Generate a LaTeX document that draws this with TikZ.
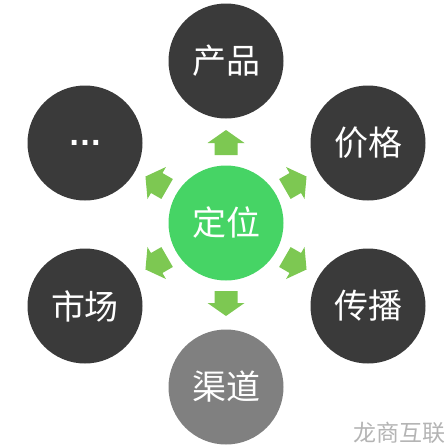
\documentclass[tikz,border=0pt]{standalone}
\usepackage{fontspec}
\setmainfont{Noto Sans CJK SC}
\newfontfamily\dotsfont{Liberation Sans}
\definecolor{ballgray}{HTML}{3A3A3A}
\definecolor{balllight}{HTML}{808080}
\definecolor{ballgreen}{HTML}{46D465}
\definecolor{arrowgreen}{HTML}{7DC852}
\definecolor{markgray}{HTML}{B4B4B4}

\begin{document}
\begin{tikzpicture}[x=1pt,y=-1pt,
  ball/.style={circle,fill=ballgray,minimum size=115pt,inner sep=0pt,text=white,font=\fontsize{34}{34}\selectfont},
  blockarrow/.style={fill=arrowgreen}]
\useasboundingbox (0,0) rectangle (448,445);
% centre and the six balls
\node[ball,fill=ballgreen] (center) at (226,223) {定位};
\node[ball] (product) at (226,61) {产品};
\node[ball] (price) at (368,143) {价格};
\node[ball] (promo) at (368,306) {传播};
\node[ball,fill=balllight] (channel) at (226,387) {渠道};
\node[ball] (market) at (85,306) {市场};
\node[ball,font=\dotsfont\fontsize{34}{34}\selectfont\bfseries] (more) at (85,143) {…};
% arrows round the centre
\foreach \a in {-90,-30,30,90,150,210}
  \fill[blockarrow,shift={(center.center)},rotate=\a]
    (68,-11.5) -- (80,-11.5) -- (80,-18.5) -- (93,0) -- (80,18.5) -- (80,11.5) -- (68,11.5) -- cycle;
% watermark
\node[anchor=east,inner sep=0pt,text=markgray,font=\fontsize{23}{23}\selectfont] (mark) at (446,433) {龙商互联};
\end{tikzpicture}
\end{document}
